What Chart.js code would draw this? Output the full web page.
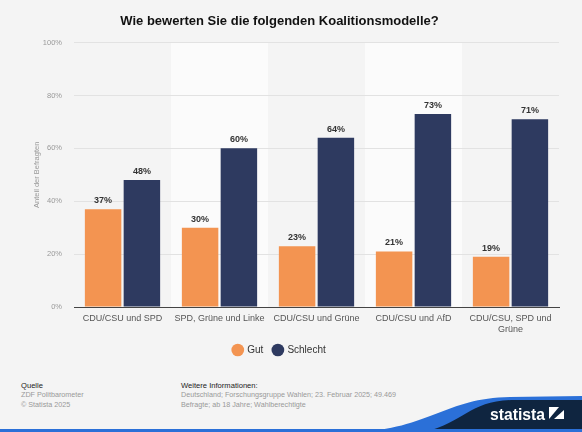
<!DOCTYPE html>
<html>
<head>
<meta charset="utf-8">
<script src="https://cdn.jsdelivr.net/npm/chart.js@4"></script>
<style>
  body { margin: 0; background: #f4f4f4; font-family: "Liberation Sans", Arial, sans-serif; }
  #wrap { position: relative; width: 582px; height: 432px; overflow: hidden; }
  #chartBox { position: absolute; left: 0; top: 0; width: 582px; height: 370px; }
  .foot { position: absolute; font-size: 7.2px; line-height: 9.3px; color: #999; }
  .foot b { font-weight: normal; color: #222; font-size: 7.6px; }
  #logo { position: absolute; left: 0; top: 0; }
</style>
</head>
<body>
<div id="wrap">
  <div id="chartBox"><canvas id="koalitionChart"></canvas></div>
  <div class="foot" style="left:21px; top:381px;"><b>Quelle</b><br>ZDF Politbarometer<br>© Statista 2025</div>
  <div class="foot" style="left:181px; top:381px;"><b>Weitere Informationen:</b><br>Deutschland; Forschungsgruppe Wahlen; 23. Februar 2025; 49.469<br>Befragte; ab 18 Jahre; Wahlberechtigte</div>
  <svg id="logo" width="582" height="432" viewBox="0 0 582 432">
    <path d="M355 432 C 430 429, 445 398, 510 397 L 582 396 L 582 432 Z" fill="#2b70d8"/>
    <path d="M425 432 C 465 422, 470 400, 515 400 L 582 400 L 582 432 Z" fill="#0f2540"/>
    <rect x="0" y="429" width="582" height="3" fill="#2b70d8"/>
    <text x="490" y="420" fill="#fff" font-family="Liberation Sans, Arial" font-weight="bold" font-size="17" textLength="55" lengthAdjust="spacingAndGlyphs">statista</text>
    <rect x="549" y="407" width="15" height="12" fill="#fff"/>
    <path d="M549 419 L 559 407 L 564 407 L 564 410 L 554 419 Z" fill="#0f2540"/>
  </svg>
</div>
<script>
const categories = [
  'CDU/CSU und SPD',
  'SPD, Grüne und Linke',
  'CDU/CSU und Grüne',
  'CDU/CSU und AfD',
  ['CDU/CSU, SPD und', 'Grüne'],
];
const gutValues = [37, 30, 23, 21, 19];
const schlechtValues = [48, 60, 64, 73, 71];
const yTicks = [0, 20, 40, 60, 80, 100];
const FONT = '"Liberation Sans", Arial, sans-serif';

// helle Streifen hinter jeder zweiten Kategorie
const bandPlugin = {
  id: 'bands',
  beforeDraw(chart) {
    const { ctx, chartArea, scales } = chart;
    const step = scales.x.width / categories.length;
    ctx.save();
    ctx.fillStyle = '#fbfbfb';
    categories.forEach((c, i) => {
      if (i % 2 === 1) {
        ctx.fillRect(chartArea.left + step * i, chartArea.top, step, chartArea.bottom - chartArea.top);
      }
    });
    // y axis title, drawn by hand so it sits where statista puts it
    const midY = (chartArea.top + chartArea.bottom) / 2;
    ctx.translate(37, midY);
    ctx.rotate(-Math.PI / 2);
    ctx.font = '7.5px ' + FONT;
    ctx.fillStyle = '#999';
    ctx.textAlign = 'center';
    ctx.textBaseline = 'middle';
    ctx.fillText('Anteil der Befragten', 0, 0);
    ctx.restore();
  },
};

// Prozentwerte über den Balken
const valueLabels = {
  id: 'valueLabels',
  afterDatasetsDraw(chart) {
    const { ctx } = chart;
    ctx.save();
    ctx.font = 'bold 9px ' + FONT;
    ctx.fillStyle = '#333';
    ctx.textAlign = 'center';
    ctx.textBaseline = 'bottom';
    chart.data.datasets.forEach((ds, di) => {
      chart.getDatasetMeta(di).data.forEach((bar, i) => {
        ctx.fillText(ds.data[i] + '%', bar.x, bar.y - 4);
      });
    });
    ctx.restore();
  },
};

new Chart(document.getElementById('koalitionChart'), {
  type: 'bar',
  data: {
    labels: categories,
    datasets: [
      {
        label: 'Gut',
        data: gutValues,
        backgroundColor: '#f39451',
        categoryPercentage: 0.8,
        barPercentage: 0.94,
      },
      {
        label: 'Schlecht',
        data: schlechtValues,
        backgroundColor: '#2e3a60',
        categoryPercentage: 0.8,
        barPercentage: 0.94,
      },
    ],
  },
  options: {
    responsive: true,
    maintainAspectRatio: false,
    animation: false,
    layout: { padding: { left: 0, right: 23, top: 6, bottom: 5 } },
    scales: {
      x: {
        grid: { display: false, drawTicks: false, tickLength: 0 },
        border: { color: '#444', width: 1 },
        afterFit: (axis) => { axis.height = 28; },
        ticks: {
          color: '#555',
          font: { size: 9, family: FONT },
          padding: 6,
          maxRotation: 0,
        },
      },
      y: {
        min: 0,
        max: 100,
        afterBuildTicks: (axis) => {
          axis.ticks = yTicks.map((v) => ({ value: v }));
        },
        afterFit: (axis) => { axis.width = 74; },
        border: { display: false },
        grid: { color: '#e2e2e2', drawTicks: false },
        ticks: {
          color: '#999',
          padding: 12,
          font: { size: 7.5, family: FONT },
          callback: (v) => v + '%',
        },
      },
    },
    plugins: {
      title: {
        display: true,
        text: 'Wie bewerten Sie die folgenden Koalitionsmodelle?',
        color: '#111',
        font: { size: 13, weight: 'bold', family: FONT },
        padding: { top: 8, bottom: 13 },
      },
      legend: {
        position: 'bottom',
        labels: {
          color: '#333',
          font: { size: 10, family: FONT },
          usePointStyle: true,
          pointStyle: 'circle',
          boxWidth: 9,
          boxHeight: 9,
          padding: 10,
        },
      },
      tooltip: { enabled: false },
    },
  },
  plugins: [bandPlugin, valueLabels],
});
</script>
</body>
</html>
